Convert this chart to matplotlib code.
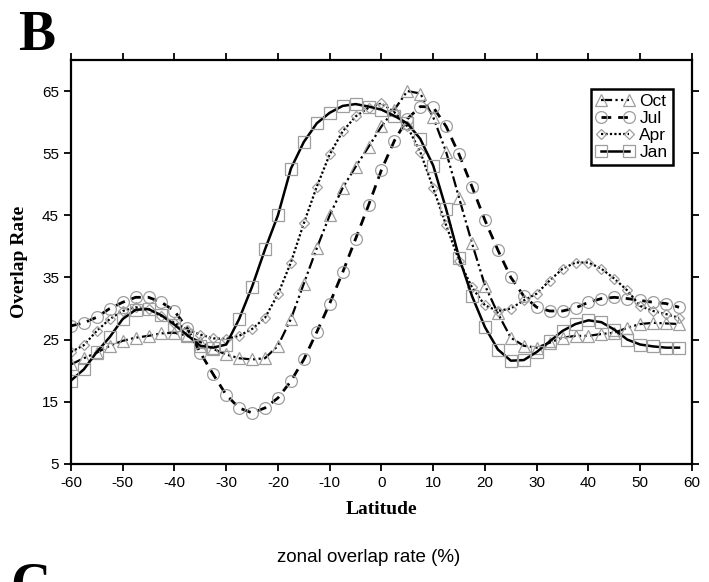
import numpy as np
import matplotlib.pyplot as plt

plt.rcParams['axes.unicode_minus'] = False

# latitude of the sampled points (every 2.5 degrees)
lat = np.arange(-60, 58, 2.5)

oct_ = [21, 22, 22.9, 24, 24.8, 25.3, 25.6, 26, 26.1, 25.6, 24.6, 23.5,
        22.6, 22, 21.8, 22, 24, 28.3, 34, 39.7, 45, 49.4, 52.8, 56,
        59.3, 62, 65, 64.6, 60.8, 55.2, 47.8, 40.5, 33.7, 29.2, 25.3, 24,
        23.7, 24.5, 25.3, 25.6, 25.6, 25.9, 26.1, 26.9, 27.5, 27.7, 27.6, 27.5]

jul = [27.2, 27.7, 28.6, 30, 31, 31.8, 31.8, 31, 29.6, 26.8, 22.9, 19.4,
       16.1, 14, 13.2, 14, 15.6, 18.3, 21.8, 26.2, 30.8, 35.8, 41.2, 46.6,
       52.3, 57, 60.5, 62.5, 62.4, 59.3, 54.8, 49.6, 44.2, 39.4, 35, 32,
       30.2, 29.6, 29.6, 30.1, 31, 31.6, 31.8, 31.6, 31.3, 31, 30.8, 30.2]

apr = [23, 24.1, 26.4, 28.3, 29.6, 30.2, 29.9, 28.8, 27.7, 26.6, 25.8, 25.2,
       25.1, 25.6, 26.7, 28.5, 32.3, 37.4, 43.7, 49.6, 54.8, 58.5, 60.9, 62.3,
       63, 61.6, 59.3, 55.2, 49.4, 43.4, 37.7, 33.4, 30.5, 29.6, 30, 31.3,
       32.4, 34.5, 36.4, 37.4, 37.4, 36.4, 34.8, 32.9, 30.4, 29.6, 29.1, 28.5]

jan = [18.4, 20.2, 23, 25.4, 28.3, 29.8, 29.9, 28.9, 27.4, 25.7, 24, 23.7,
       24.2, 28.3, 33.5, 39.5, 45, 52.5, 56.8, 59.8, 61.5, 62.6, 62.9, 62.5,
       62, 61, 59.8, 57.3, 53, 46, 38.2, 32, 27, 23.4, 21.6, 21.7,
       23, 24.7, 26.4, 27.5, 28.1, 27.8, 26.6, 25, 24.2, 23.9, 23.7, 23.7]

xticks = np.arange(-60, 61, 10)
yticks = np.arange(5, 66, 10)

sans = 'Liberation Sans'
serif = 'Liberation Serif'

fig = plt.figure(figsize=(7.09, 5.82), dpi=100)
ax = fig.add_axes([0.1, 0.203, 0.876, 0.694])

gray = '0.62'
ax.plot(lat, oct_, color='black', lw=1.6, ls=(0, (5, 1.5, 1, 1.5, 1, 1.5)),
        marker='^', ms=8.5, mfc='none', mec=gray, mew=0.9, label='Oct')
ax.plot(lat, jul, color='black', lw=2.0, ls=(0, (3.5, 2.5)),
        marker='o', ms=8.5, mfc='none', mec=gray, mew=0.9, label='Jul')
ax.plot(lat, apr, color='black', lw=1.6, ls=(0, (1, 1)),
        marker='D', ms=5.5, mfc='none', mec=gray, mew=0.9, label='Apr')
ax.plot(lat, jan, color='black', lw=1.8, ls='-',
        marker='s', ms=9, mfc='none', mec=gray, mew=0.9, label='Jan')

ax.set_xlim(-60, 60)
ax.set_ylim(5, 70)
ax.set_xticks(xticks)
ax.set_yticks(yticks)
ax.tick_params(direction='out', length=5, width=1.3, top=True, right=True,
               labelsize=11)
for lab in ax.get_xticklabels() + ax.get_yticklabels():
    lab.set_family(sans)
for s in ax.spines.values():
    s.set_linewidth(1.6)

ax.set_xlabel('Latitude', family=serif, fontweight='bold', fontsize=14,
              labelpad=8)
ax.set_ylabel('Overlap Rate', family=serif, fontweight='bold', fontsize=14,
              labelpad=10)

leg = ax.legend(loc='upper right', bbox_to_anchor=(0.983, 0.95), numpoints=2,
                handlelength=2.2, handletextpad=0.3, labelspacing=0.1,
                borderpad=0.3, fancybox=False, framealpha=1,
                prop={'family': sans, 'size': 12.5})
leg.get_frame().set_edgecolor('black')
leg.get_frame().set_linewidth(1.8)

fig.text(0.026, 0.914, 'B', family=serif, fontweight='bold', fontsize=40)
fig.text(0.52, 0.035, 'zonal overlap rate (%)', family=sans, fontsize=13.5,
         ha='center')
fig.text(0.015, -0.034, 'C', family=serif, fontweight='bold', fontsize=40)

fig.savefig('out.png', dpi=100)
